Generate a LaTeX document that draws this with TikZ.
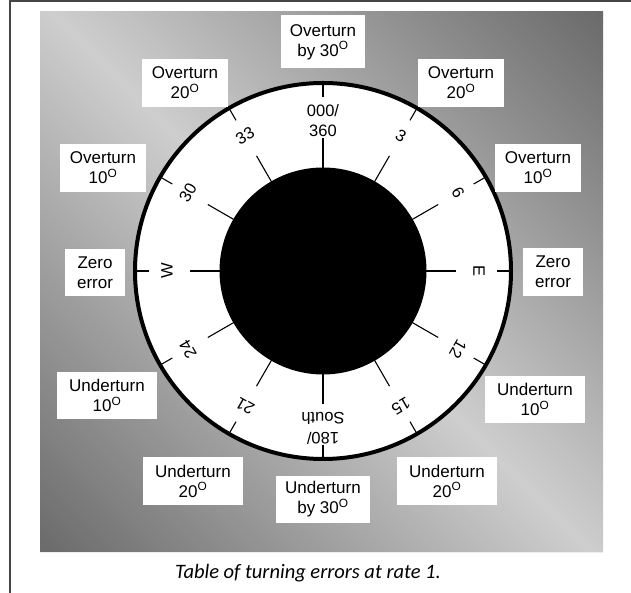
\documentclass[tikz,border=0pt]{standalone}
\usepackage{fontspec}
\setmainfont{Liberation Sans}
\newfontfamily\capfont{Carlito}
\definecolor{panelDark}{RGB}{106,106,106}
\definecolor{panelLight}{RGB}{206,206,206}
\definecolor{frameGray}{RGB}{70,70,70}
\begin{document}
\begin{tikzpicture}[x=1pt,y=1pt,
  errbox/.style={fill=white, draw=none, align=center, inner sep=0pt,
    font=\fontsize{17}{20}\selectfont, text=black},
  dial/.style={font=\fontsize{16.5}{20}\selectfont, align=center, inner sep=0pt},
  tick/.style={line width=1.1pt},
]
\useasboundingbox (0,0) rectangle (631,593);
% outer frame
\coordinate (fb) at (10,0);
\coordinate (ft) at (10,591.5);
\coordinate (fr) at (631,591.5);
\draw[frameGray, line width=2pt] (fb) -- (ft) -- (fr);
% shaded panel, drawn as thin diagonal bands
\begin{scope}
  \clip (40,41) rectangle (603,581);
  \foreach \i in {0,...,157} {
    \pgfmathsetmacro{\t}{\i*7}
    \pgfmathsetmacro{\f}{min(100,abs(\t+3.5-551.5)/551.5*100)}
    \fill[panelDark!\f!panelLight] (40+\t+700,41-700) -- ++(-1500,1500) -- ++(7.6,0) -- ++(1500,-1500) -- cycle;
  }
\end{scope}
\draw[white!85!gray, line width=0.8pt] (40,41) -- (603,41);
% dial
\begin{scope}[shift={(323,322)}]
  \fill[white] (0,0) circle (188);
  \draw[black, line width=4pt] (0,0) circle (188);
  \fill[black] (0,0) circle (103.5);
  \foreach \b in {0,30,...,330} {
    \draw[tick] (90-\b:103) -- (90-\b:133);
    \draw[tick] (90-\b:174) -- (90-\b:187);
  }
  \node[dial] (l0) at (90:150) {000/\\360};
  \node[dial, rotate=180] (l180) at (-90:157) {180/\\South};
  \foreach \b/\t in {30/3,60/6,90/E,120/12,150/15,210/21,240/24,270/W,300/30,330/33} {
    \node[dial, rotate=-\b] (l\b) at (90-\b:156) {\t};
  }
\end{scope}
% error boxes
\node[errbox, minimum width=84pt, minimum height=53pt] (o30) at (323,551) {Overturn\\by 30\textsuperscript{O}};
\node[errbox, minimum width=86pt, minimum height=48pt] (o20l) at (185,510) {Overturn\\20\textsuperscript{O}};
\node[errbox, minimum width=86pt, minimum height=48pt] (o20r) at (461,510) {Overturn\\20\textsuperscript{O}};
\node[errbox, minimum width=86pt, minimum height=48pt] (o10l) at (103,425) {Overturn\\10\textsuperscript{O}};
\node[errbox, minimum width=86pt, minimum height=48pt] (o10r) at (538,425) {Overturn\\10\textsuperscript{O}};
\node[errbox, minimum width=60pt, minimum height=47pt] (zl) at (95,320.5) {Zero\\error};
\node[errbox, minimum width=60pt, minimum height=48pt] (zr) at (553,321) {Zero\\error};
\node[errbox, minimum width=100pt, minimum height=47pt] (u10l) at (107,197.5) {Underturn\\10\textsuperscript{O}};
\node[errbox, minimum width=100pt, minimum height=47pt] (u10r) at (535,193.5) {Underturn\\10\textsuperscript{O}};
\node[errbox, minimum width=100pt, minimum height=48pt] (u20l) at (193,112) {Underturn\\20\textsuperscript{O}};
\node[errbox, minimum width=100pt, minimum height=48pt] (u20r) at (447,112) {Underturn\\20\textsuperscript{O}};
\node[errbox, minimum width=94pt, minimum height=47pt] (u30) at (323,93.5) {Underturn\\by 30\textsuperscript{O}};
% caption
\node[font=\capfont\itshape\fontsize{20.5}{24}\selectfont, inner sep=0pt] (cap) at (308,20) {Table of turning errors at rate 1.};
\end{tikzpicture}
\end{document}
